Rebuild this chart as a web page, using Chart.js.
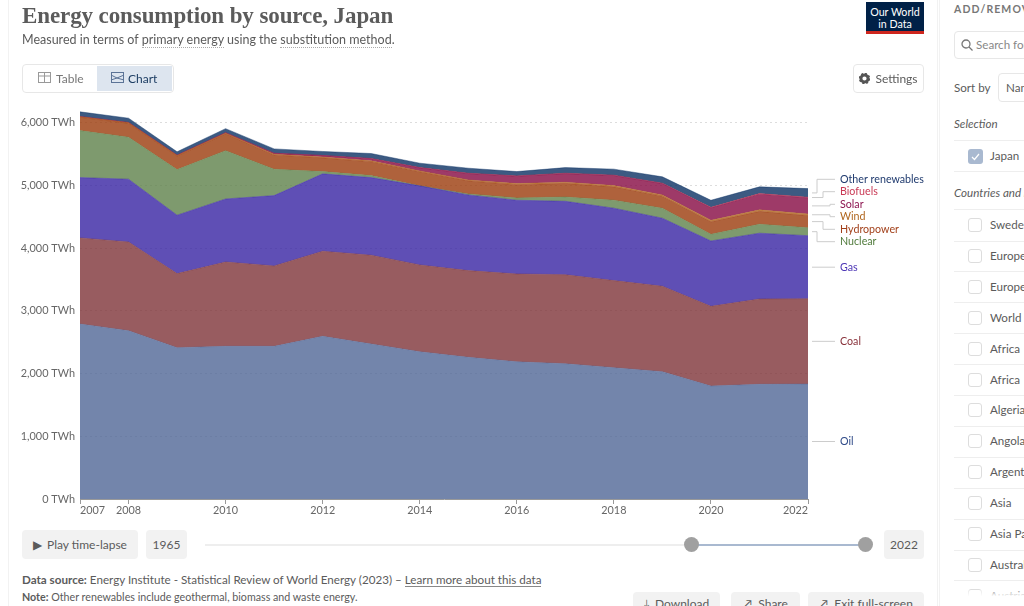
<!DOCTYPE html>
<html lang="en">
<head>
    <meta charset="UTF-8"/>
    <title>Energy consumption by source, Japan</title>
    <script src="https://cdn.jsdelivr.net/npm/chart.js"></script>
    <style>
        html, body { margin: 0; width: 1024px; height: 606px; overflow: hidden; background: white; }
        body { font-family: Lato, sans-serif; color: #5b5b5b; position: relative; }
        .abs { position: absolute; white-space: nowrap; }
        canvas { position: absolute; left: 0; top: 0; }
        .frame { left: 8px; top: -2px; width: 930px; height: 620px; border: 1px solid #f2f2f2; box-sizing: border-box; }
        h1 { margin: 0; left: 22px; top: 1px; font: bold 23px/30px 'Liberation Serif', serif; letter-spacing: -0.1px; color: #5b5b5b; }
        .sub { left: 22px; top: 31px; font-size: 12.5px; line-height: 18px; }
        .dotted { border-bottom: 1px dotted #aaa; }
        .logo { left: 866px; top: 2px; width: 58px; height: 32px; background: #002147; border-bottom: 3px solid #ce261e; box-sizing: border-box; color: white; font-size: 10.7px; line-height: 12px; text-align: center; padding-top: 4px; }
        .tabs { left: 22px; top: 64px; width: 152px; height: 29px; border: 1px solid #e7e7e7; border-radius: 4px; box-sizing: border-box; }
        .tab { top: 66px; height: 25px; line-height: 25px; font-size: 12px; }
        .btn { background: #f2f2f2; border-radius: 4px; font-size: 12px; text-align: center; box-sizing: border-box; }
        .settings { left: 853px; top: 64px; width: 71px; height: 29px; line-height: 27px; border: 1px solid #e7e7e7; border-radius: 4px; font-size: 12px; box-sizing: border-box; text-align: center; }
        .rule { left: 954px; width: 70px; height: 1px; background: #eee; }
        .check { left: 968px; width: 14px; height: 14px; border: 1px solid #ddd; border-radius: 3px; box-sizing: border-box; background: white; }
        .row { left: 990px; font-size: 11.6px; line-height: 16px; }
        .fade { left: 940px; top: 590px; width: 84px; height: 16px; background: linear-gradient(to bottom, rgba(255,255,255,0.3), white 40%); }
    </style>
</head>
<body>
    <div class="abs frame"></div>
    <canvas id="areaChart" width="940" height="540"></canvas>

    <h1 class="abs">Energy consumption by source, Japan</h1>
    <div class="abs sub">Measured in terms of <span class="dotted">primary energy</span> using the <span class="dotted">substitution method</span>.</div>
    <div class="abs logo">Our World<br>in Data</div>

    <div class="abs tabs"></div>
    <div class="abs" style="left:97px;top:66px;width:75px;height:25px;background:#dde5ef;"></div>
    <svg class="abs" style="left:38px;top:72px" width="13" height="12"><rect x="0.5" y="0.5" width="12" height="10" fill="none" stroke="#999"/><path d="M0 4H13M6.5 0V11" stroke="#999"/></svg>
    <div class="abs tab" style="left:56px;color:#777;">Table</div>
    <svg class="abs" style="left:111px;top:72px" width="13" height="12"><rect x="0.5" y="0.5" width="12" height="10" fill="none" stroke="#5b7396"/><path d="M0 3L6 6L13 3M0 8L6 6L13 8" fill="none" stroke="#5b7396"/></svg>
    <div class="abs tab" style="left:128px;color:#1d3d63;">Chart</div>

    <div class="abs settings"><svg width="11" height="11" style="vertical-align:-1px;margin-right:5px"><circle cx="5.5" cy="5.5" r="3.6" fill="none" stroke="#555" stroke-width="3"/><circle cx="5.5" cy="5.5" r="5" fill="none" stroke="#555" stroke-width="1.5" stroke-dasharray="2 1.9"/></svg>Settings</div>

    <div class="abs btn" style="left:22px;top:530px;width:116px;height:29px;line-height:29px;"><span style="font-size:12px;margin-right:5px;">&#9654;</span>Play time-lapse</div>
    <div class="abs btn" style="left:146px;top:530px;width:41px;height:29px;line-height:29px;">1965</div>
    <div class="abs" style="left:205px;top:543.5px;width:486px;height:2px;background:#eee;"></div>
    <div class="abs" style="left:691px;top:543.5px;width:174px;height:2px;background:#a9b9d0;"></div>
    <div class="abs" style="left:683.5px;top:537px;width:15px;height:15px;border-radius:50%;background:#a0a0a0;"></div>
    <div class="abs" style="left:857.5px;top:537px;width:15px;height:15px;border-radius:50%;background:#a0a0a0;"></div>
    <div class="abs btn" style="left:884px;top:530px;width:40px;height:29px;line-height:29px;">2022</div>

    <div class="abs" style="left:22px;top:572px;font-size:11.65px;line-height:15px;"><b>Data source:</b> Energy Institute - Statistical Review of World Energy (2023) &ndash; <span style="border-bottom:1px solid #888;">Learn more about this data</span></div>
    <div class="abs" style="left:22px;top:589px;font-size:10.7px;line-height:15px;"><b>Note:</b> Other renewables include geothermal, biomass and waste energy.</div>
    <div class="abs btn" style="left:633px;top:592px;width:87px;height:29px;line-height:24px;">&#10515;&nbsp; Download</div>
    <div class="abs btn" style="left:731px;top:592px;width:69px;height:29px;line-height:24px;">&#8599;&nbsp; Share</div>
    <div class="abs btn" style="left:808px;top:592px;width:116px;height:29px;line-height:24px;">&#8599;&nbsp; Exit full-screen</div>

    <div id="panel"></div>

    <script>
        const years = [2007, 2008, 2009, 2010, 2011, 2012, 2013, 2014, 2015, 2016, 2017, 2018, 2019, 2020, 2021, 2022];
        const xTicks = [2007, 2008, 2010, 2012, 2014, 2016, 2018, 2020, 2022];
        const yTicks = [0, 1000, 2000, 3000, 4000, 5000, 6000];

        // TWh per source
        const oil = [2793, 2686, 2415, 2437, 2437, 2597, 2474, 2351, 2262, 2191, 2159, 2096, 2032, 1803, 1831, 1835];
        const coal = [1373, 1416, 1181, 1345, 1282, 1357, 1416, 1384, 1382, 1400, 1420, 1389, 1363, 1272, 1361, 1361];
        const gas = [962, 1001, 932, 1005, 1122, 1234, 1238, 1261, 1208, 1176, 1171, 1155, 1085, 1042, 1049, 1005];
        const nuclear = [750, 670, 728, 771, 421, 37, 32, 0, 16, 37, 69, 128, 160, 107, 144, 128];
        const hydropower = [213, 221, 215, 268, 227, 218, 222, 226, 209, 211, 217, 213, 192, 199, 204, 193];
        const wind = [6, 7, 8, 10, 12, 12, 13, 13, 14, 17, 18, 20, 20, 24, 24, 26];
        const solar = [5, 6, 7, 8, 15, 25, 35, 50, 102, 118, 138, 160, 180, 199, 251, 257];
        const biofuels = [0, 0, 0, 1, 1, 1, 2, 3, 5, 5, 6, 6, 7, 8, 9, 10];
        const otherRenewables = [75, 69, 54, 64, 69, 64, 80, 70, 80, 69, 89, 96, 101, 112, 107, 137];

        const sources = [
            { label: 'Oil', values: oil, rgb: '80,102,150', text: '#2f4a88' },
            { label: 'Coal', values: coal, rgb: '126,51,56', text: '#883039' },
            { label: 'Gas', values: gas, rgb: '55,35,163', text: '#4c35b5' },
            { label: 'Nuclear', values: nuclear, rgb: '94,129,74', text: '#4f7a3a' },
            { label: 'Hydropower', values: hydropower, rgb: '155,59,11', text: '#a2401a' },
            { label: 'Wind', values: wind, rgb: '176,102,30', text: '#b0661e' },
            { label: 'Solar', values: solar, rgb: '134,9,66', text: '#8c1450' },
            { label: 'Biofuels', values: biofuels, rgb: '196,52,78', text: '#c93a55' },
            { label: 'Other renewables', values: otherRenewables, rgb: '11,49,99', text: '#1f3a6e' }
        ];

        // where the crowded end labels sit and where their leader bends
        const crowded = {
            'Other renewables': { y: 179.3, bend: 817 },
            'Biofuels': { y: 191.7, bend: 823 },
            'Solar': { y: 204.3, bend: 830 },
            'Wind': { y: 216.7, bend: 830 },
            'Hydropower': { y: 229.3, bend: 823 },
            'Nuclear': { y: 241.7, bend: 817 }
        };

        const endLabels = {
            id: 'endLabels',
            afterDraw(chart) {
                const c = chart.ctx;
                const last = years.length - 1;
                c.save();
                c.font = '10.7px Lato';
                c.textBaseline = 'middle';
                sources.forEach((s, i) => {
                    const top = chart.getDatasetMeta(i).data[last].y;
                    const bottom = i ? chart.getDatasetMeta(i - 1).data[last].y : chart.scales.y.bottom;
                    const mid = (top + bottom) / 2;
                    const place = crowded[s.label];
                    const y = place ? place.y : mid;
                    c.strokeStyle = '#ccc';
                    c.lineWidth = 1;
                    c.beginPath();
                    c.moveTo(812, mid);
                    if (place) {
                        c.lineTo(place.bend, mid);
                        c.lineTo(place.bend, y);
                    }
                    c.lineTo(835, y);
                    c.stroke();
                    c.fillStyle = s.text;
                    c.fillText(s.label, 840, y);
                });
                c.restore();
            }
        };

        // 2007 and 2022 are pulled inwards, so the year labels are drawn here
        const yearLabels = {
            id: 'yearLabels',
            afterDraw(chart) {
                const c = chart.ctx;
                const x = chart.scales.x;
                c.save();
                c.font = '10.8px Lato';
                c.fillStyle = '#666';
                c.textBaseline = 'middle';
                xTicks.forEach((year, i) => {
                    c.textAlign = i === 0 ? 'left' : i === xTicks.length - 1 ? 'right' : 'center';
                    c.fillText(String(year), x.getPixelForValue(year), 511);
                });
                c.restore();
            }
        };

        new Chart(document.getElementById('areaChart'), {
            type: 'line',
            data: {
                datasets: sources.map((s, i) => ({
                    label: s.label,
                    data: years.map((year, j) => ({ x: year, y: s.values[j] })),
                    backgroundColor: `rgba(${s.rgb},0.8)`,
                    borderColor: `rgba(${s.rgb},0.85)`,
                    borderWidth: 0.5,
                    pointRadius: 0,
                    tension: 0,
                    fill: i === 0 ? 'origin' : '-1'
                }))
            },
            options: {
                responsive: false,
                animation: false,
                layout: { padding: { top: 110.4, right: 132, bottom: 31 } },
                plugins: { legend: { display: false }, tooltip: { enabled: false } },
                scales: {
                    x: {
                        type: 'linear',
                        min: 2007,
                        max: 2022,
                        afterBuildTicks: scale => { scale.ticks = xTicks.map(v => ({ value: v })); },
                        afterFit: scale => { scale.height = 10; },
                        ticks: { display: false },
                        border: { color: '#999' },
                        grid: { drawOnChartArea: false, tickLength: 5, color: '#999' }
                    },
                    y: {
                        stacked: true,
                        min: 0,
                        max: 6200,
                        afterBuildTicks: scale => { scale.ticks = yTicks.map(v => ({ value: v })); },
                        afterFit: scale => { scale.width = 80; },
                        ticks: {
                            padding: 5,
                            color: '#666',
                            font: { family: 'Lato', size: 10.9 },
                            callback: v => v.toLocaleString('en-US') + ' TWh'
                        },
                        border: { display: false, dash: [2, 3] },
                        grid: { drawTicks: false, color: '#ddd' }
                    }
                }
            },
            plugins: [endLabels, yearLabels]
        });

        // entity picker on the right
        const pickerRows = ['Sweden', 'Europe', 'Europe', 'World', 'Africa', 'Africa', 'Algeria', 'Angola', 'Argentina', 'Asia', 'Asia Pacific', 'Australia', 'Austria'];
        let html = `
            <div class="abs" style="left:939px;top:0;width:85px;height:606px;background:white;border-left:1px solid #f2f2f2;box-sizing:border-box;"></div>
            <div class="abs" style="left:954px;top:2px;font-size:10.5px;line-height:14px;font-weight:bold;letter-spacing:1.1px;color:#777;">ADD/REMOVE COUNTRIES</div>
            <div class="abs" style="left:954px;top:31px;width:90px;height:28px;border:1px solid #e7e7e7;border-radius:4px;box-sizing:border-box;"></div>
            <svg class="abs" style="left:961px;top:39px" width="12" height="12"><circle cx="5" cy="5" r="4" fill="none" stroke="#777" stroke-width="1.3"/><path d="M8 8L11.5 11.5" stroke="#777" stroke-width="1.3"/></svg>
            <div class="abs row" style="left:976px;top:37px;color:#888;">Search for a country</div>
            <div class="abs row" style="left:954px;top:80px;">Sort by</div>
            <div class="abs" style="left:998px;top:73px;width:60px;height:29px;border:1px solid #e7e7e7;border-radius:4px;box-sizing:border-box;"></div>
            <div class="abs row" style="left:1006px;top:80px;">Name</div>
            <div class="abs row" style="left:954px;top:116px;font-style:italic;">Selection</div>
            <div class="abs rule" style="top:140px;"></div>
            <div class="abs" style="left:968px;top:149px;width:15px;height:15px;background:#a9b9d0;border-radius:3px;"></div>
            <svg class="abs" style="left:968px;top:149px" width="15" height="15"><path d="M4 8L6.5 10.5L11 5" fill="none" stroke="white" stroke-width="1.2"/></svg>
            <div class="abs row" style="top:148px;">Japan</div>
            <div class="abs rule" style="top:171px;"></div>
            <div class="abs row" style="left:954px;top:185px;font-style:italic;">Countries and regions</div>
            <div class="abs rule" style="top:209px;"></div>`;
        pickerRows.forEach((name, i) => {
            const y = 225 + i * 30.9;
            html += `<div class="abs check" style="top:${y - 7}px;"></div>
                <div class="abs row" style="top:${y - 8}px;">${name}</div>
                <div class="abs rule" style="top:${y + 15.5}px;"></div>`;
        });
        html += '<div class="abs fade"></div>';
        document.getElementById('panel').innerHTML = html;
    </script>
</body>
</html>
